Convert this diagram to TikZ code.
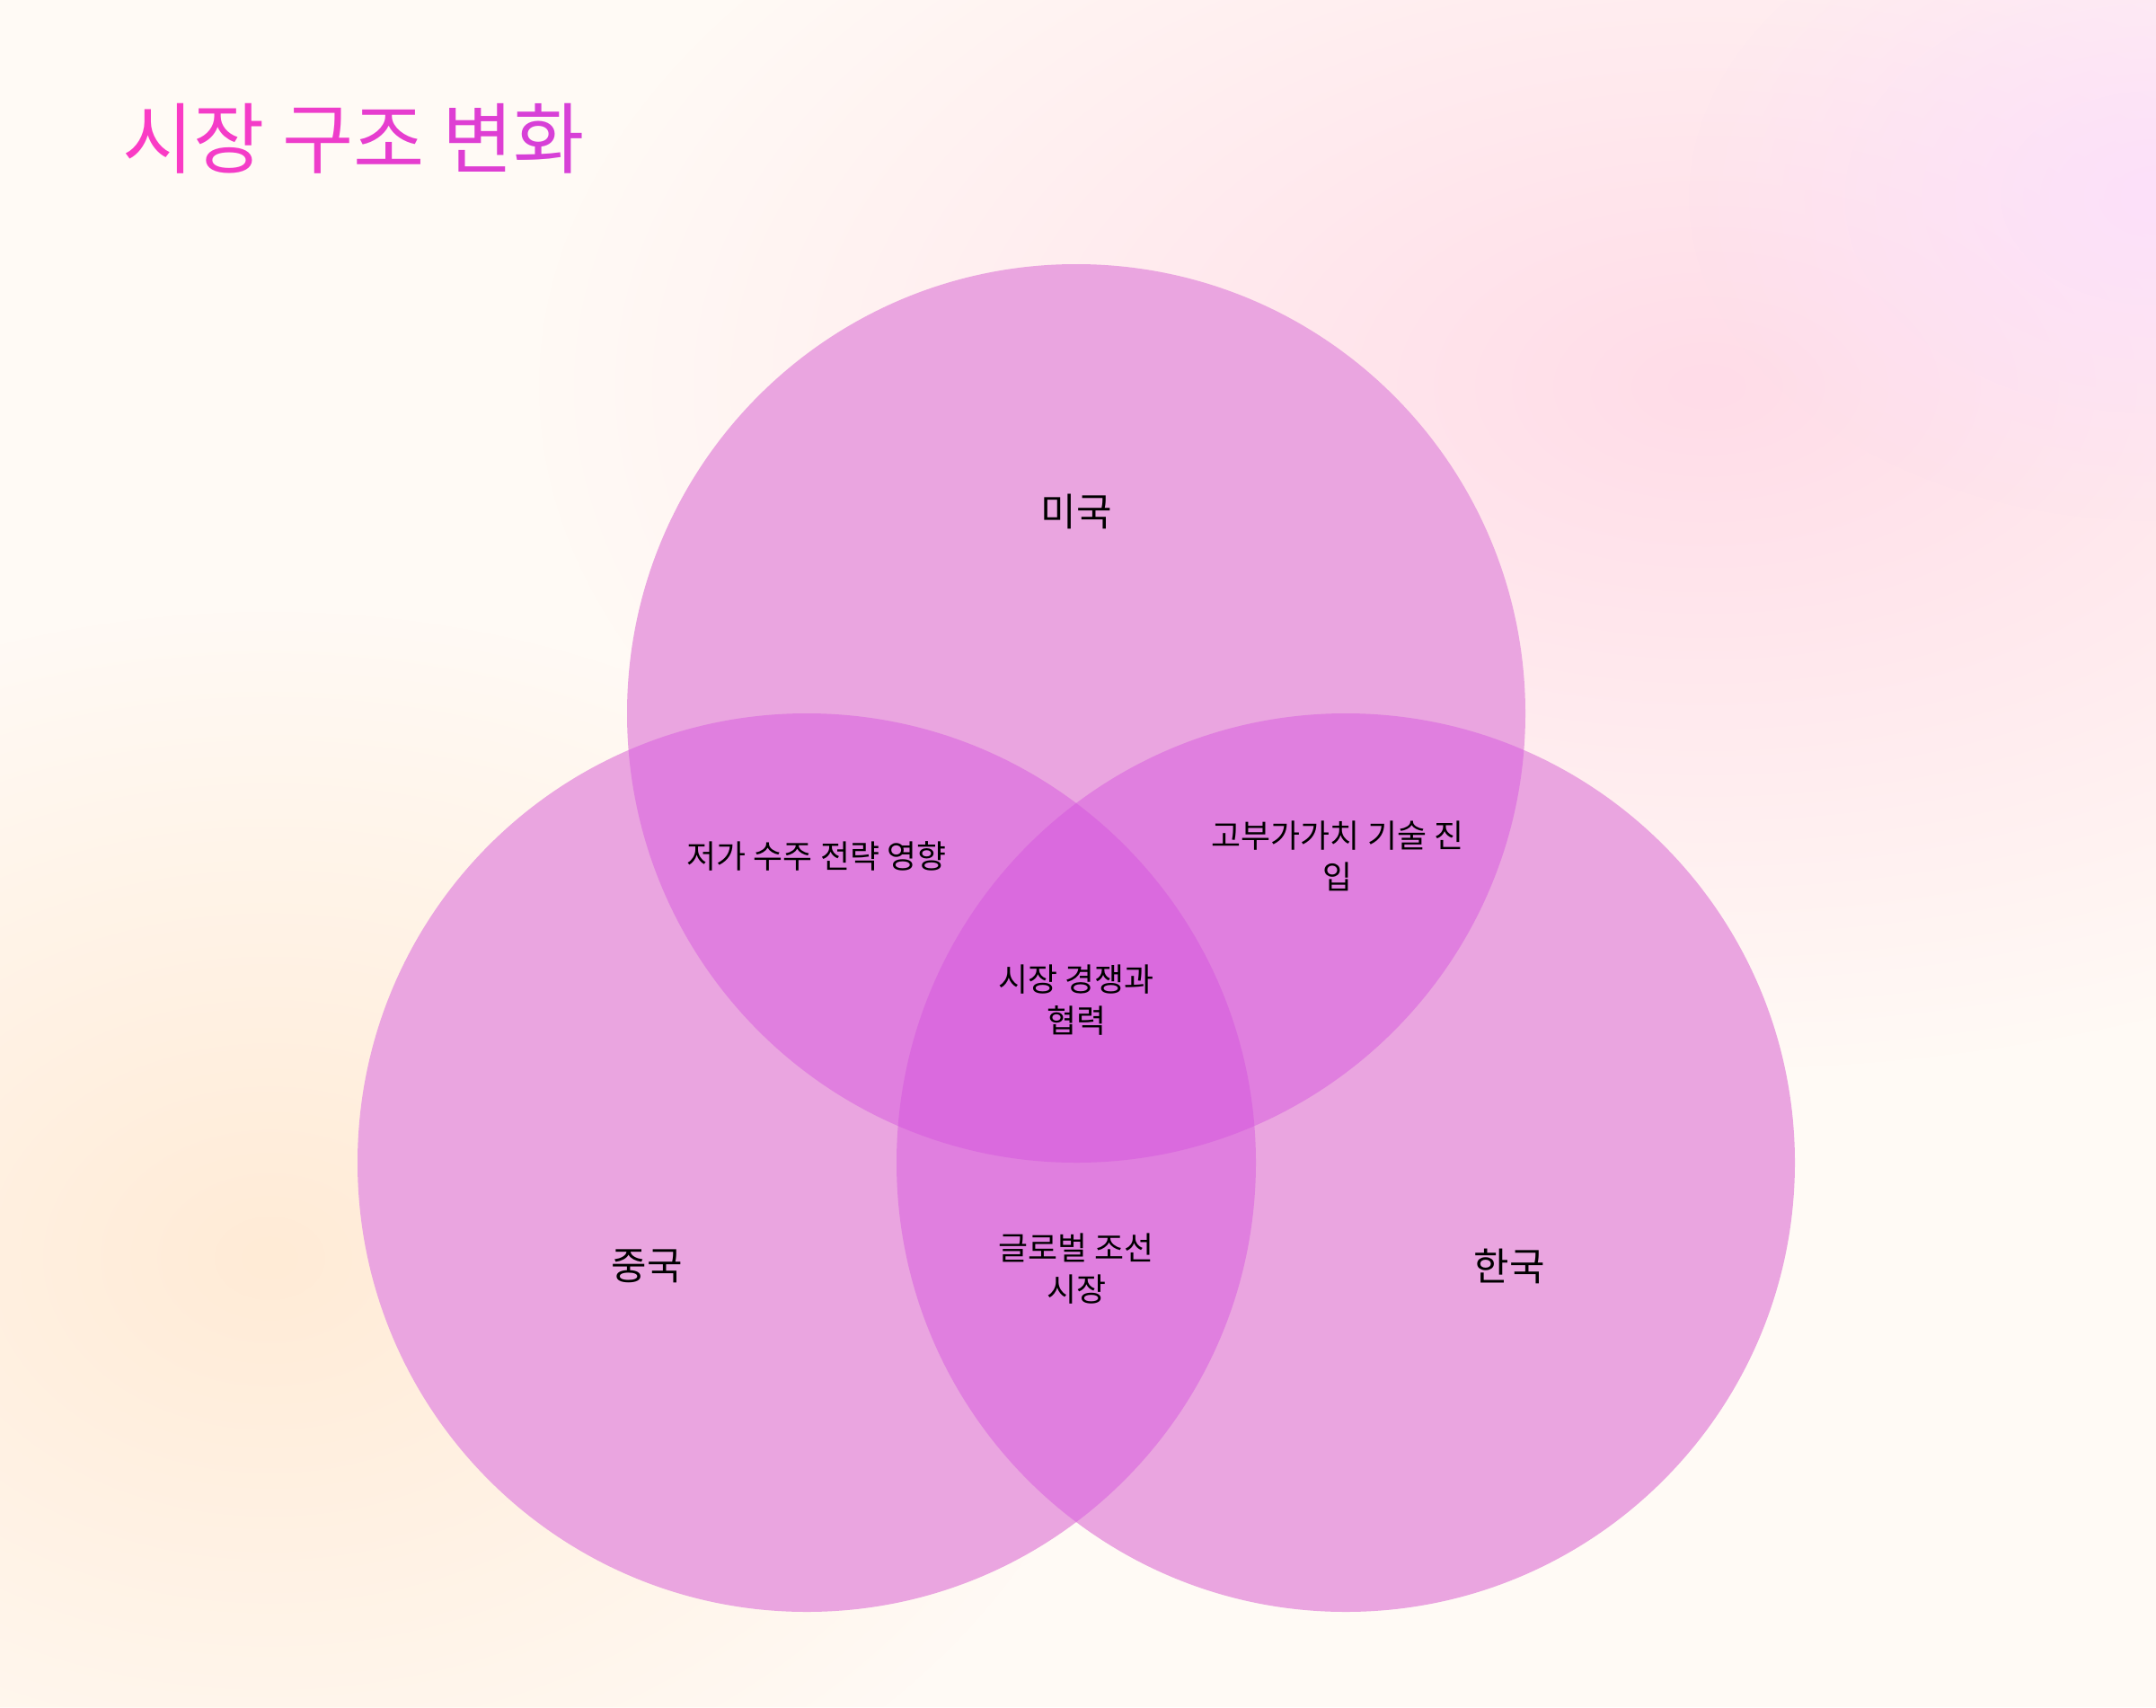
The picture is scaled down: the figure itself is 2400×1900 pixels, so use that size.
\documentclass[tikz,border=0pt]{standalone}
\usepackage{fontspec}
\setmainfont{Noto Sans CJK KR}
\usetikzlibrary{fadings}
\tikzfading[name=softblob, inner color=transparent!0, outer color=transparent!100]
\definecolor{bgbase}{HTML}{FFFAF5}
\definecolor{bgpink}{HTML}{FFDCE8}
\definecolor{bglav}{HTML}{FCE0FA}
\definecolor{bgpeach}{HTML}{FFEBD6}
\definecolor{one}{HTML}{EAA5E0}
\definecolor{two}{HTML}{E07FDF}
\definecolor{three}{HTML}{DA6ADE}
\definecolor{tA}{HTML}{FA3BC5}
\definecolor{tB}{HTML}{F43CC8}
\definecolor{tC}{HTML}{EE3CCB}
\definecolor{tD}{HTML}{E63DCF}
\definecolor{tE}{HTML}{DE3ED3}
\definecolor{tF}{HTML}{D740D7}
\tikzset{
  setlabel/.style={font=\fontsize{12.2pt}{14pt}\selectfont, text=black, inner sep=0pt},
  overlabel/.style={font=\fontsize{10.2pt}{13.2pt}\selectfont, text=black, align=center, inner sep=0pt},
}
\begin{document}
\begin{tikzpicture}[x=0.01cm,y=-0.01cm]
\useasboundingbox (0,0) rectangle (2400,1900);
% background
\fill[bgbase] (0,0) rectangle (2400,1900);
\begin{scope}
\clip (0,0) rectangle (2400,1900);
\fill[bgpink, path fading=softblob] (1900,430) ellipse [x radius=1300, y radius=760];
\fill[bglav, path fading=softblob] (2400,220) ellipse [x radius=520, y radius=360];
\fill[bgpeach, path fading=softblob] (300,1400) ellipse [x radius=950, y radius=720];
\end{scope}
% circles
\coordinate (cU) at (1198,794);
\coordinate (cL) at (898,1294);
\coordinate (cR) at (1498,1294);
\fill[one] (cU) circle [radius=500];
\fill[one] (cL) circle [radius=500];
\fill[one] (cR) circle [radius=500];
\begin{scope}
\clip (cU) circle [radius=500];
\fill[two] (cL) circle [radius=500];
\fill[two] (cR) circle [radius=500];
\end{scope}
\begin{scope}
\clip (cL) circle [radius=500];
\fill[two] (cR) circle [radius=500];
\end{scope}
\begin{scope}
\clip (cU) circle [radius=500];
\clip (cL) circle [radius=500];
\fill[three] (cR) circle [radius=500];
\end{scope}
% title
\node[anchor=west, inner sep=0pt, font=\fontsize{24.5pt}{28pt}\selectfont] (title) at (136,154)
  {\textcolor{tA}{시}\textcolor{tB}{장} \textcolor{tC}{구}\textcolor{tD}{조} \textcolor{tE}{변}\textcolor{tF}{화}};
% labels
\node[setlabel] (us) at (1198,569) {미국};
\node[setlabel] (cn) at (720,1409) {중국};
\node[setlabel] (kr) at (1680,1409) {한국};
\node[overlabel] (uscn) at (909,953) {저가 수주 전략 영향};
\node[overlabel] (uskr) at (1489,953) {고부가가치 기술 진\\입};
\node[overlabel] (all) at (1198,1113) {시장 경쟁과\\협력};
\node[overlabel] (cnkr) at (1198,1412) {글로벌 조선\\시장};
\end{tikzpicture}
\end{document}
